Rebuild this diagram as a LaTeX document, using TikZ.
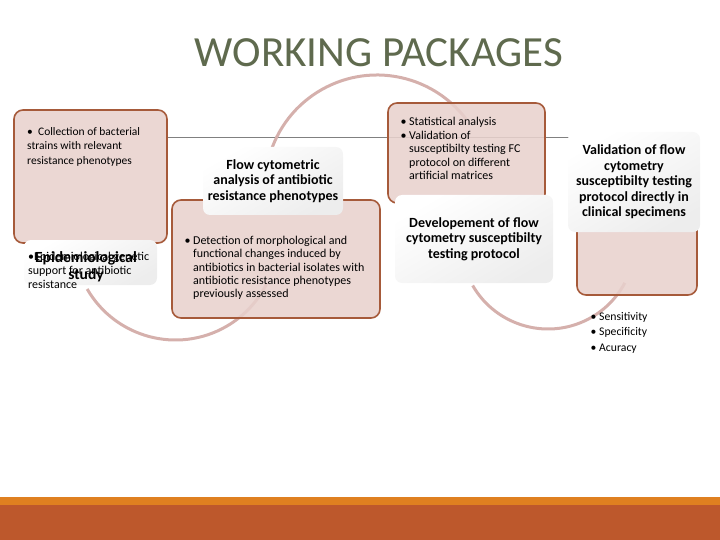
\documentclass[tikz,border=0pt]{standalone}
\usepackage{fontspec}
\setmainfont{Carlito}
\usetikzlibrary{positioning, calc}
\pgfdeclarelayer{background}
\pgfsetlayers{background,main}
\definecolor{cpink}{HTML}{E8D1CD}
\definecolor{cbrown}{HTML}{A65A3A}
\definecolor{cring}{HTML}{D5B0AC}
\definecolor{ctitle}{HTML}{5F6A4E}
\definecolor{cgrey}{HTML}{808080}
\definecolor{corange}{HTML}{DF8020}
\definecolor{crust}{HTML}{BD582C}
\tikzset{
  every picture/.style={font=\fontsize{12}{13.3}\selectfont},
  box/.style={draw=cbrown, fill=cpink, fill opacity=0.88, rounded corners=9pt, line width=1.6pt},
  lab/.style={rounded corners=7pt, top color=white, bottom color=black!7, shading angle=30, align=center,
              font=\bfseries\fontsize{14}{15.5}\selectfont},
  note/.style={align=left, inner sep=0pt, anchor=north west},
  ring/.style={draw=cring, line width=3pt},
  title/.style={font=\fontsize{43}{50}\selectfont, text=ctitle, anchor=base},
}

\begin{document}
\begin{tikzpicture}[x=1pt, y=-1pt]
  \useasboundingbox (0,0) rectangle (720,540);
  \fill[corange] (0,497) rectangle (720,505);
  \fill[crust] (0,505) rectangle (720,540);
  \node[title] (ttl) at (379,67) {WORKING PACKAGES};

  % boxes first, labels are drawn over them later
  \node[box, minimum width=153pt, minimum height=133pt] (wp1) at (90.5,176.5) {};
  \node[box, minimum width=208pt, minimum height=118pt] (wp2) at (276,259) {};
  \node[box, minimum width=157pt, minimum height=100pt] (wp3) at (466.5,153) {};
  \node[box, minimum width=120pt, minimum height=85pt] (wp4) at (637,252.5) {};

  \coordinate (ruley) at (0,137);
  \coordinate (c1) at (175.5,238);
  \coordinate (c2) at (377,187);
  \coordinate (c3) at (548,242);

  % links behind the boxes
  \begin{pgfonlayer}{background}
    \draw[cgrey, line width=0.8pt] (wp1.east |- ruley) -- (wp4.west |- ruley);
    \draw[ring] (c1) ++(150:102) arc[start angle=150, end angle=26, radius=102];
    \draw[ring] (c2) ++(198:112) arc[start angle=198, end angle=323, radius=112];
    \draw[ring] (c3) ++(150:87) arc[start angle=150, end angle=28, radius=87];
  \end{pgfonlayer}

  \node[lab, minimum width=133pt, minimum height=45pt] (lab1) at (90.5,262.5) {};
  \node[lab, minimum width=140pt, minimum height=68pt] (lab2) at (273,181) {Flow cytometric\\analysis of antibiotic\\resistance phenotypes};
  \node[lab, minimum width=158pt, minimum height=88pt] (lab3) at (474,239) {Developement of flow\\cytometry susceptibilty\\testing protocol};
  \node[lab, minimum width=132pt, minimum height=100pt] (lab4) at (634,182) {Validation of flow\\cytometry\\susceptibilty testing\\protocol directly in\\clinical specimens};

  \node[note, font=\fontsize{11.5}{14.5}\selectfont] (t1) at (27,127) {\textbullet\ \ Collection of bacterial\\strains with relevant\\resistance phenotypes};
  \node[note, font=\fontsize{12}{14}\selectfont] (t1b) at (28,252) {\textbullet Epidemiological genetic\\support for antibiotic\\resistance};
  \node[inner sep=0pt, anchor=north, align=center, font=\bfseries\fontsize{15.5}{17}\selectfont] (t1c) at (86,251) {Epidemiological\\study};
  \node[note] (t2) at (193,236) {\llap{\textbullet\ }Detection of morphological and\\functional changes induced by\\antibiotics in bacterial isolates with\\antibiotic resistance phenotypes\\previously assessed};
  \node[note, font=\fontsize{12}{13.5}\selectfont] (t3) at (409,117) {\llap{\textbullet\ }Statistical analysis\\\llap{\textbullet\ }Validation of\\susceptibilty testing FC\\protocol on different\\artificial matrices};
  \node[note, font=\fontsize{11.7}{15.5}\selectfont] (t4) at (599,312) {\llap{\textbullet\ }Sensitivity\\\llap{\textbullet\ }Specificity\\\llap{\textbullet\ }Acuracy};
\end{tikzpicture}
\end{document}
